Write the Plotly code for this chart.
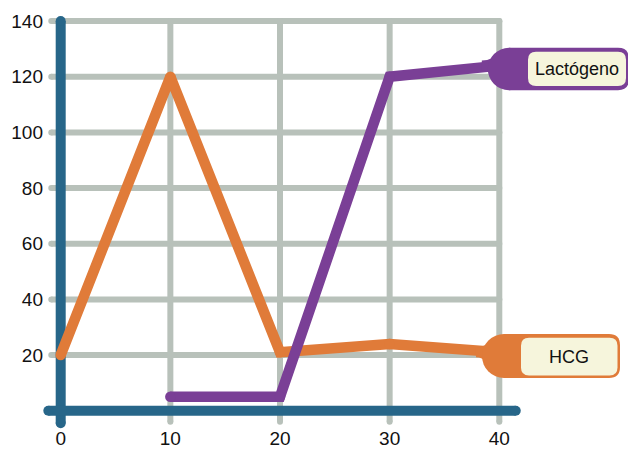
import plotly.graph_objects as go

# ---- data ----
x_weeks = [0, 10, 20, 30, 40]
hcg = [20, 120, 21, 24, 21]
lact_x = [10, 20, 30, 40]
lactogeno = [5, 5, 120, 124]
x_ticks = [0, 10, 20, 30, 40]
y_ticks = [20, 40, 60, 80, 100, 120, 140]
series_names = ["HCG", "Lactógeno"]

# ---- styles ----
W, H = 628, 450
ORANGE = "#e07b39"
PURPLE = "#7a3f96"
TEAL = "#276689"
GRID = "#b8c1ba"
CREAM = "#f6f5dc"
TICKFONT = dict(family="Liberation Sans, Arial, sans-serif", size=19, color="#111111")

# pixel mapping of data (x=0 at 60.7px, 10.965px/unit; y=0 at 410.7px, 2.783px/unit)
X0PX, XS = 60.7, 10.965
Y0PX, YS = 410.7, 2.783
xr = [-X0PX / XS, (W - X0PX) / XS]
yr = [-(H - Y0PX) / YS, Y0PX / YS]

fig = go.Figure()

# grid lines
gx, gy = [], []
for xv in x_ticks[1:]:
    gx += [xv, xv, None]
    gy += [-4.0, y_ticks[-1], None]
for yv in y_ticks:
    gx += [-0.86, x_ticks[-1], None]
    gy += [yv, yv, None]
fig.add_trace(go.Scatter(x=gx, y=gy, mode="lines+markers",
                         line=dict(color=GRID, width=6),
                         marker=dict(color=GRID, size=6),
                         hoverinfo="skip", showlegend=False))

# teal axes
ax_x = [0, 0, None, -1.13, 41.5]
ax_y = [-4.5, y_ticks[-1], None, 0, 0]
fig.add_trace(go.Scatter(x=ax_x, y=ax_y, mode="lines+markers",
                         line=dict(color=TEAL, width=10),
                         marker=dict(color=TEAL, size=10),
                         hoverinfo="skip", showlegend=False))

# data series
fig.add_trace(go.Scatter(x=x_weeks, y=hcg, mode="lines+markers", name=series_names[0],
                         line=dict(color=ORANGE, width=10.5),
                         marker=dict(color=ORANGE, size=10.5), showlegend=False))
fig.add_trace(go.Scatter(x=lact_x, y=lactogeno, mode="lines+markers", name=series_names[1],
                         line=dict(color=PURPLE, width=10.5),
                         marker=dict(color=PURPLE, size=10.5), showlegend=False))


def P(px, py):
    return f"{px / W:.5f},{(H - py) / H:.5f}"


def rrect(x0, y0, x1, y1, rl, rr):
    return (f"M {P(x0 + rl, y0)} L {P(x1 - rr, y0)} Q {P(x1, y0)} {P(x1, y0 + rr)} "
            f"L {P(x1, y1 - rr)} Q {P(x1, y1)} {P(x1 - rr, y1)} L {P(x0 + rl, y1)} "
            f"Q {P(x0, y1)} {P(x0, y1 - rl)} L {P(x0, y0 + rl)} Q {P(x0, y0)} {P(x0 + rl, y0)} Z")


shapes = []
annotations = []


def tag(color, cy_line, bulb_cx, bulb_cy, r, body_x1, box, text):
    top, bot = bulb_cy - r, bulb_cy + r
    # neck fillet
    shapes.append(dict(type="path", xref="paper", yref="paper", layer="above",
                       path=(f"M {P(bulb_cx - r - 6, cy_line - 5)} Q {P(bulb_cx - r + 6, cy_line - 5)} "
                             f"{P(bulb_cx - 8, top + 2)} L {P(bulb_cx - 8, bot - 2)} "
                             f"Q {P(bulb_cx - r + 6, cy_line + 5)} {P(bulb_cx - r - 6, cy_line + 5)} Z"),
                       fillcolor=color, line=dict(width=0)))
    shapes.append(dict(type="circle", xref="paper", yref="paper", layer="above",
                       x0=(bulb_cx - r) / W, x1=(bulb_cx + r) / W,
                       y0=(H - bot) / H, y1=(H - top) / H,
                       fillcolor=color, line=dict(width=0)))
    shapes.append(dict(type="path", xref="paper", yref="paper", layer="above",
                       path=rrect(bulb_cx, top, body_x1, bot, 0.01, 11),
                       fillcolor=color, line=dict(width=0)))
    bx0, by0, bx1, by1 = box
    shapes.append(dict(type="path", xref="paper", yref="paper", layer="above",
                       path=rrect(bx0, by0, bx1, by1, 8, 8),
                       fillcolor=CREAM, line=dict(width=0)))
    annotations.append(dict(xref="paper", yref="paper", x=(bx0 + bx1) / 2 / W,
                            y=(H - (by0 + by1) / 2) / H, text=text, showarrow=False,
                            xanchor="center", yanchor="middle",
                            font=dict(family="Liberation Sans, Arial", size=18, color="#111111")))


tag(PURPLE, Y0PX - lactogeno[-1] * YS, 509, 69, 21.2, 629, (528, 51.7, 626, 86), series_names[1])
tag(ORANGE, Y0PX - hcg[-1] * YS, 504, 356, 22, 620, (521, 337.7, 617.5, 375.5), series_names[0])

fig.update_layout(
    width=W, height=H,
    margin=dict(l=0, r=0, t=0, b=0),
    paper_bgcolor="white", plot_bgcolor="white",
    template=None,
    shapes=shapes, annotations=annotations,
    xaxis=dict(range=xr, domain=[0, 1], anchor="free", position=(H - 425) / H,
               tickvals=x_ticks, ticktext=[str(v) for v in x_ticks],
               showgrid=False, zeroline=False, showline=False, ticks="",
               tickfont=TICKFONT, fixedrange=True, automargin=False),
    yaxis=dict(range=yr, domain=[0, 1], anchor="free", position=43 / W,
               tickvals=y_ticks, ticktext=[str(v) for v in y_ticks],
               showgrid=False, zeroline=False, showline=False, ticks="",
               tickfont=TICKFONT, fixedrange=True, automargin=False),
    showlegend=False,
)

fig.write_html("out.html", config={"displayModeBar": False},
               post_script="document.body.style.margin='0px';document.body.style.overflow='hidden';")
